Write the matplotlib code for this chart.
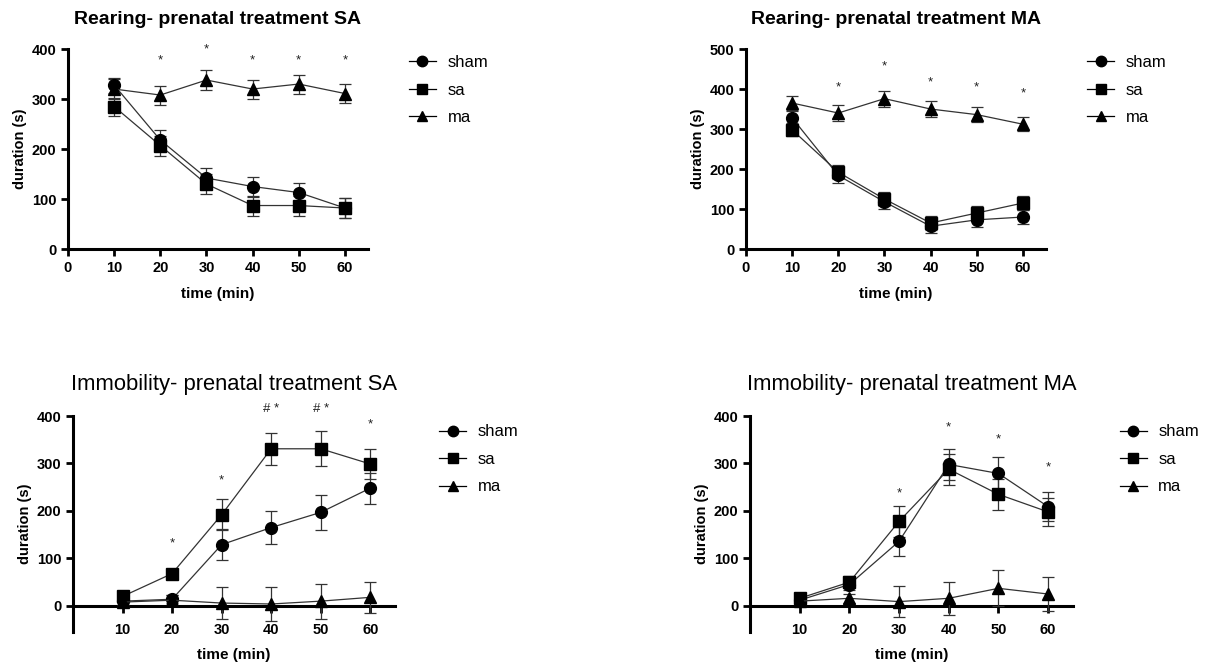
import matplotlib
matplotlib.use("Agg")
import matplotlib.pyplot as plt
from matplotlib.lines import Line2D

plt.rcParams['font.family'] = ['Liberation Sans', 'DejaVu Sans']

time = [10, 20, 30, 40, 50, 60]
groups = ['sham', 'sa', 'ma']

# Rearing - prenatal treatment SA
rear_sa_sham = [328, 218, 142, 125, 113, 82]
rear_sa_sa = [285, 207, 130, 87, 87, 82]
rear_sa_ma = [320, 308, 338, 320, 330, 311]
rear_sa_sham_err = [15, 20, 21, 20, 20, 20]
rear_sa_sa_err = [18, 20, 20, 20, 20, 20]
rear_sa_ma_err = [20, 19, 20, 19, 19, 19]
rear_sa_sig = ['*', '*', '*', '*', '*']
rear_sa_sig_x = [20, 30, 40, 50, 60]
rear_sa_sig_y = [378, 400, 378, 378, 378]

# Rearing - prenatal treatment MA
rear_ma_sham = [328, 184, 118, 57, 73, 80]
rear_ma_sa = [298, 192, 125, 65, 90, 115]
rear_ma_ma = [365, 340, 376, 350, 336, 312]
rear_ma_sham_err = [18, 18, 18, 18, 18, 18]
rear_ma_sa_err = [16, 18, 18, 18, 18, 18]
rear_ma_ma_err = [17, 19, 20, 19, 19, 18]
rear_ma_sig = ['*', '*', '*', '*', '*']
rear_ma_sig_x = [20, 30, 40, 50, 60]
rear_ma_sig_y = [405, 457, 417, 405, 390]

# Immobility - prenatal treatment SA
imm_sa_sham = [10, 14, 129, 165, 197, 248]
imm_sa_sa = [20, 68, 192, 331, 331, 299]
imm_sa_ma = [8, 12, 6, 4, 10, 18]
imm_sa_sham_err = [8, 8, 32, 35, 37, 33]
imm_sa_sa_err = [8, 8, 33, 34, 37, 32]
imm_sa_ma_err = [10, 10, 33, 35, 37, 33]
imm_sa_sig = ['*', '*', '# *', '# *', '*']
imm_sa_sig_x = [20, 30, 40, 50, 60]
imm_sa_sig_y = [132, 265, 415, 415, 382]

# Immobility - prenatal treatment MA
imm_ma_sham = [12, 45, 136, 298, 279, 209]
imm_ma_sa = [16, 50, 178, 288, 235, 198]
imm_ma_ma = [10, 16, 9, 16, 37, 25]
imm_ma_sham_err = [6, 12, 30, 33, 35, 30]
imm_ma_sa_err = [6, 12, 33, 33, 33, 30]
imm_ma_ma_err = [6, 10, 32, 35, 38, 35]
imm_ma_sig = ['*', '*', '*', '*']
imm_ma_sig_x = [30, 40, 50, 60]
imm_ma_sig_y = [237, 377, 351, 291]

markers = {'sham': 'o', 'sa': 's', 'ma': '^'}

fig = plt.figure(figsize=(12.09, 6.68), dpi=100)


def panel(rect, title, series, errs, sig, sig_x, sig_y, ylim, yticks, xticks,
          zero_axis, legend_xy, title_kw):
    ax = fig.add_axes(rect)
    for g, y, e in zip(groups, series, errs):
        ax.errorbar(time, y, yerr=e, color='#333333', lw=0.9, marker=markers[g],
                    ms=8.5 if g != 'ma' else 9, mfc='black', mec='black',
                    capsize=4, elinewidth=0.9, capthick=0.9, label=g, zorder=3)
    for t, x, y in zip(sig, sig_x, sig_y):
        ax.text(x, y, t, ha='center', va='center', fontsize=9.5, color='#222222')
    ax.set_xlim(0, 65)
    ax.set_ylim(*ylim)
    ax.set_xticks(xticks)
    ax.set_yticks(yticks)
    ax.spines['top'].set_visible(False)
    ax.spines['right'].set_visible(False)
    for s in ['left', 'bottom']:
        ax.spines[s].set_linewidth(2.2)
    if zero_axis:
        ax.spines['bottom'].set_position(('data', 0))
        ax.tick_params(axis='x', pad=7)
    ax.tick_params(width=2, length=5, direction='out', labelsize=10.5)
    for lab in ax.get_xticklabels() + ax.get_yticklabels():
        lab.set_fontweight('bold')
    ax.set_xlabel('time (min)', fontsize=11, fontweight='bold',
                  labelpad=8 if zero_axis else 9)
    ax.set_ylabel('duration (s)', fontsize=10.5, fontweight='bold', labelpad=3)
    ax.set_title(title, **title_kw)
    handles = [Line2D([], [], color='black', lw=0.9, marker=markers[g], ms=7.5,
                      mfc='black', mec='black') for g in groups]
    fig.legend(handles, groups, loc='upper left', bbox_to_anchor=legend_xy,
               frameon=False, fontsize=12, handlelength=1.6, handletextpad=0.7,
               labelspacing=0.75)
    return ax


top_title = dict(fontsize=14, fontweight='bold', pad=18)
bot_title = dict(fontsize=15.8, pad=19)

panel([0.0562, 0.6272, 0.2482, 0.2994], 'Rearing- prenatal treatment SA',
      [rear_sa_sham, rear_sa_sa, rear_sa_ma],
      [rear_sa_sham_err, rear_sa_sa_err, rear_sa_ma_err],
      rear_sa_sig, rear_sa_sig_x, rear_sa_sig_y,
      (0, 400), [0, 100, 200, 300, 400], [0, 10, 20, 30, 40, 50, 60],
      False, (0.326, 0.94), top_title)

panel([0.617, 0.6272, 0.2482, 0.2994], 'Rearing- prenatal treatment MA',
      [rear_ma_sham, rear_ma_sa, rear_ma_ma],
      [rear_ma_sham_err, rear_ma_sa_err, rear_ma_ma_err],
      rear_ma_sig, rear_ma_sig_x, rear_ma_sig_y,
      (0, 500), [0, 100, 200, 300, 400, 500], [0, 10, 20, 30, 40, 50, 60],
      False, (0.887, 0.94), top_title)

panel([0.0604, 0.0539, 0.2663, 0.3233], 'Immobility- prenatal treatment SA',
      [imm_sa_sham, imm_sa_sa, imm_sa_ma],
      [imm_sa_sham_err, imm_sa_sa_err, imm_sa_ma_err],
      imm_sa_sig, imm_sa_sig_x, imm_sa_sig_y,
      (-55, 400), [0, 100, 200, 300, 400], [10, 20, 30, 40, 50, 60],
      True, (0.351, 0.387), bot_title)

panel([0.6203, 0.0539, 0.2672, 0.3233], 'Immobility- prenatal treatment MA',
      [imm_ma_sham, imm_ma_sa, imm_ma_ma],
      [imm_ma_sham_err, imm_ma_sa_err, imm_ma_ma_err],
      imm_ma_sig, imm_ma_sig_x, imm_ma_sig_y,
      (-55, 400), [0, 100, 200, 300, 400], [10, 20, 30, 40, 50, 60],
      True, (0.914, 0.387), bot_title)

fig.savefig('out.png', dpi=100)
